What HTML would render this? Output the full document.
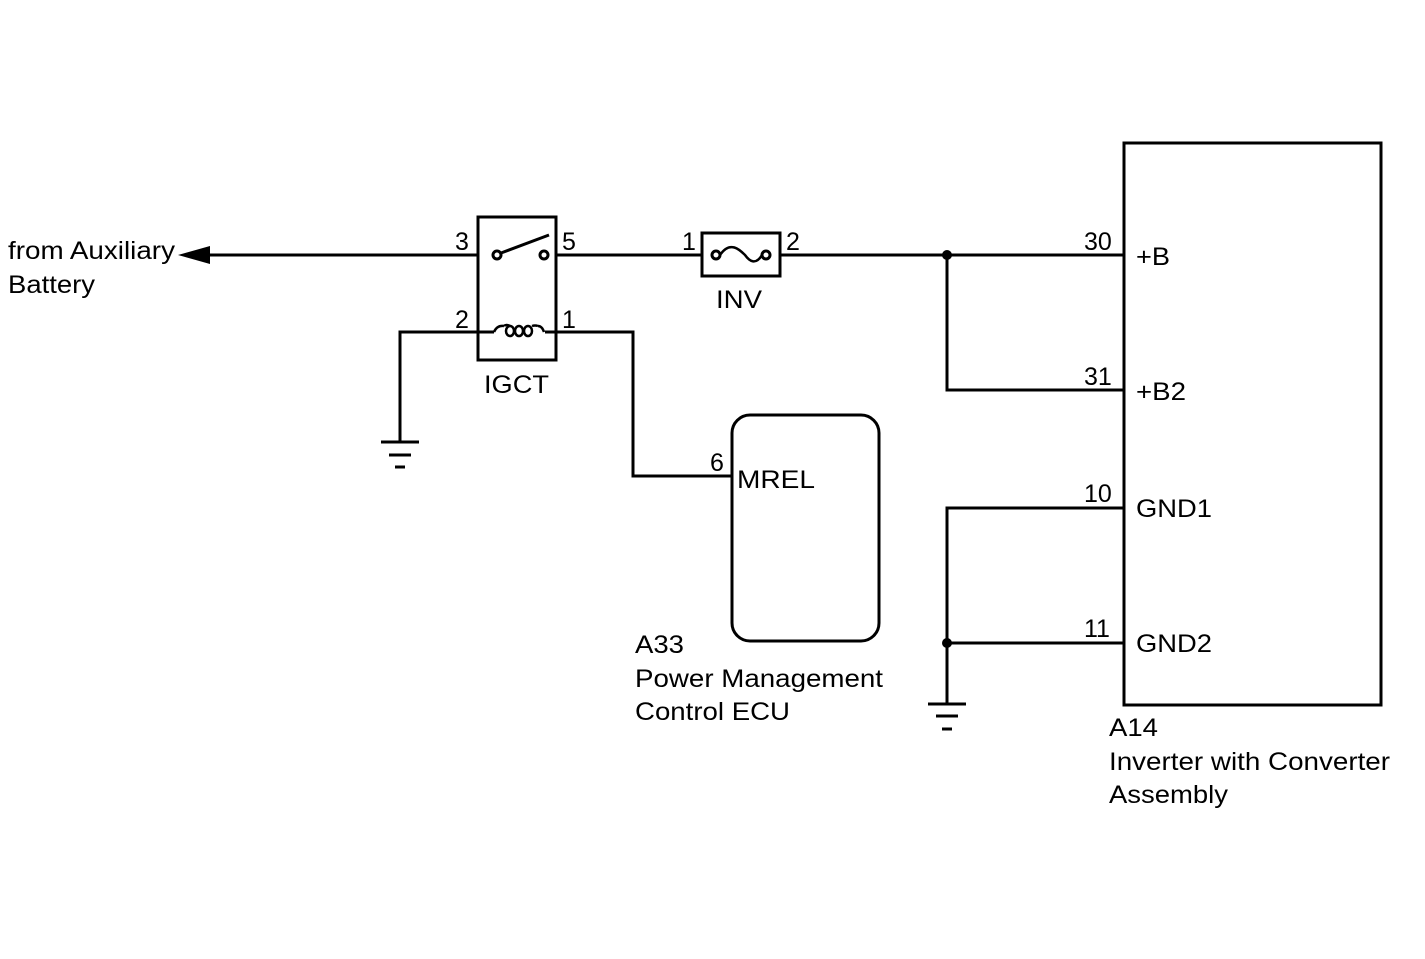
<!DOCTYPE html>
<html><head><style>
html,body{margin:0;padding:0;background:#fff;}
svg{display:block;}
text{font-family:"Liberation Sans",Arial,sans-serif;font-size:25px;fill:#000;}
</style></head><body>
<svg width="1425" height="959" viewBox="0 0 1425 959" xmlns="http://www.w3.org/2000/svg">
<g stroke="#000" stroke-width="3" fill="none">
<line x1="205" y1="255" x2="477" y2="255"/>
<line x1="556" y1="255" x2="701" y2="255"/>
<line x1="781" y1="255" x2="1124" y2="255"/>
<polyline points="947,255 947,390 1124,390"/>
<rect x="478" y="217" width="78" height="143"/>
<circle cx="497" cy="255" r="4" fill="#fff"/>
<circle cx="544" cy="255" r="4" fill="#fff"/>
<line x1="501" y1="253" x2="549" y2="235"/>
<polyline points="400,442 400,332 494,332"/>
<polyline points="545,332 633,332 633,476 732,476"/>
<path d="M494,332 q3,-7 10,-6 M538,326 q4,0 6,6" stroke-width="2.5"/>
<ellipse cx="510" cy="331" rx="4" ry="5" stroke-width="2.5"/>
<ellipse cx="519" cy="331" rx="4" ry="5" stroke-width="2.5"/>
<ellipse cx="528" cy="331" rx="4" ry="5" stroke-width="2.5"/>
<path d="M504,326 q2,-2 6,0 M532,326 q3,-1 6,0" stroke-width="2.5"/>
<line x1="381" y1="442" x2="419" y2="442"/>
<line x1="389" y1="455" x2="411" y2="455"/>
<line x1="395" y1="467" x2="405" y2="467"/>
<rect x="702" y="233" width="78" height="43"/>
<circle cx="716" cy="255" r="4" fill="#fff"/>
<circle cx="766" cy="255" r="4" fill="#fff"/>
<path d="M720,255 C730,240 740,250 745,255 C750,262 756,265 762,255" stroke-width="2.5"/>
<rect x="732" y="415" width="147" height="226" rx="18"/>
<rect x="1124" y="143" width="257" height="562"/>
<polyline points="1124,508 947,508 947,704"/>
<line x1="947" y1="643" x2="1124" y2="643"/>
<line x1="928" y1="704" x2="966" y2="704"/>
<line x1="936" y1="716" x2="958" y2="716"/>
<line x1="942" y1="729" x2="952" y2="729"/>
</g>
<circle cx="947" cy="255" r="5" fill="#000"/>
<circle cx="947" cy="643" r="5" fill="#000"/>
<polygon points="178,255 210,246 210,264" fill="#000"/>
<text x="8" y="259" textLength="167" lengthAdjust="spacingAndGlyphs">from Auxiliary</text>
<text x="8" y="293" textLength="87" lengthAdjust="spacingAndGlyphs">Battery</text>
<text x="455" y="250">3</text>
<text x="562" y="250">5</text>
<text x="455" y="328">2</text>
<text x="562" y="328">1</text>
<text x="484" y="393" textLength="65" lengthAdjust="spacingAndGlyphs">IGCT</text>
<text x="682" y="250">1</text>
<text x="786" y="250">2</text>
<text x="716" y="308" textLength="46" lengthAdjust="spacingAndGlyphs">INV</text>
<text x="710" y="471">6</text>
<text x="737" y="488" textLength="78" lengthAdjust="spacingAndGlyphs">MREL</text>
<text x="635" y="653" textLength="49" lengthAdjust="spacingAndGlyphs">A33</text>
<text x="635" y="687" textLength="248" lengthAdjust="spacingAndGlyphs">Power Management</text>
<text x="635" y="720" textLength="155" lengthAdjust="spacingAndGlyphs">Control ECU</text>
<text x="1084" y="250">30</text>
<text x="1136" y="265" textLength="34" lengthAdjust="spacingAndGlyphs">+B</text>
<text x="1084" y="385">31</text>
<text x="1136" y="400" textLength="50" lengthAdjust="spacingAndGlyphs">+B2</text>
<text x="1084" y="502">10</text>
<text x="1136" y="517" textLength="76" lengthAdjust="spacingAndGlyphs">GND1</text>
<text x="1084" y="637">11</text>
<text x="1136" y="652" textLength="76" lengthAdjust="spacingAndGlyphs">GND2</text>
<text x="1109" y="736" textLength="49" lengthAdjust="spacingAndGlyphs">A14</text>
<text x="1109" y="770" textLength="281" lengthAdjust="spacingAndGlyphs">Inverter with Converter</text>
<text x="1109" y="803" textLength="119" lengthAdjust="spacingAndGlyphs">Assembly</text>
</svg>
</body></html>
